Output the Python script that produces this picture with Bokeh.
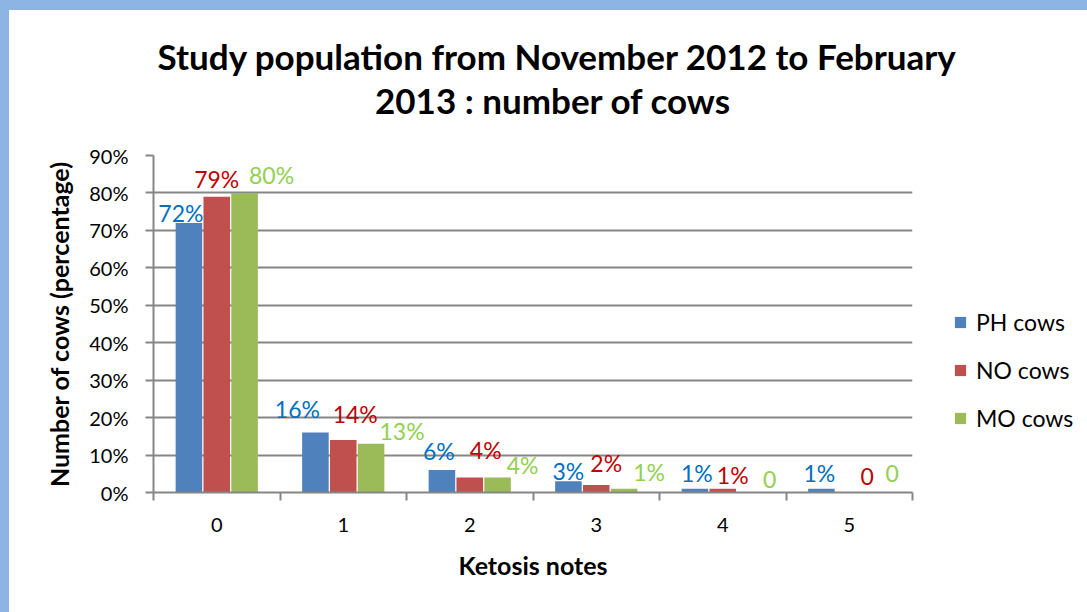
from bokeh.plotting import figure
from bokeh.models import (ColumnDataSource, Range1d, FixedTicker, Legend, LegendItem,
                          Label, Spacer)
from bokeh.layouts import column, row
from bokeh.embed import file_html
from bokeh.resources import INLINE

# ---- data ----
categories = [0, 1, 2, 3, 4, 5]
series_names = ["PH cows", "NO cows", "MO cows"]
ph_values = [72, 16, 6, 3, 1, 1]
no_values = [79, 14, 4, 2, 1, 0]
mo_values = [80, 13, 4, 1, 0, 0]
ph_labels = ["72%", "16%", "6%", "3%", "1%", "1%"]
no_labels = ["79%", "14%", "4%", "2%", "1%", "0"]
mo_labels = ["80%", "13%", "4%", "1%", "0", "0"]
y_ticks = [0, 10, 20, 30, 40, 50, 60, 70, 80, 90]
y_tick_labels = ["0%", "10%", "20%", "30%", "40%", "50%", "60%", "70%", "80%", "90%"]
x_tick_labels = ["0", "1", "2", "3", "4", "5"]
title_line1 = "Study population from November 2012 to February"
title_line2 = "2013 :  number of cows"

# ---- styles ----
FONT = "Lato"
bar_colors = ["#4F81BD", "#C0504D", "#9BBB59"]
label_colors = ["#0070C0", "#C00000", "#92D050"]
dodge = [-0.22, 0.0, 0.22]
bar_w = 0.21
# label pixel offsets (dx, dy above bar top) per series
label_dx = [[-8, -18, -3, 0, 2, -2], [0, 12, 16, 10, 10, 18], [27, 31, 25, 25, 19, 15]]
label_dy = [[10, 24, 19, 10, 16, 16], [18, 26, 28, 22, 14, 16], [18, 13, 13, 17, 13, 19]]
BLUE_BG = "#8DB4E2"
GRAY = "#868686"

W, H = 1087, 612
TITLE_H = 130
MAIN_W, LEG_W = 913, W - 9 - 913
BODY_H = H - 10 - TITLE_H


def blank(fig):
    fig.outline_line_color = None
    fig.background_fill_color = "white"
    fig.border_fill_color = "white"


# ---- title panel ----
t = figure(width=W - 9, height=TITLE_H, output_backend="svg", toolbar_location=None,
           x_range=Range1d(9, W), y_range=Range1d(0, TITLE_H),
           x_axis_type=None, y_axis_type=None,
           min_border_left=0, min_border_right=0, min_border_top=0, min_border_bottom=0)
blank(t)
t.xgrid.visible = False
t.ygrid.visible = False
t.add_layout(Label(x=557, y=85, text=title_line1, text_align="center",
                   text_baseline="middle", text_font=FONT, text_font_size="35px",
                   text_font_style="bold", text_color="black"))
t.add_layout(Label(x=557, y=41, text=title_line2, text_align="center",
                   text_baseline="middle", text_font=FONT, text_font_size="35px",
                   text_font_style="bold", text_color="black"))

# ---- main chart ----
p = figure(width=MAIN_W, height=BODY_H, output_backend="svg", toolbar_location=None,
           x_range=Range1d(-0.5, 5.5), y_range=Range1d(0, 90),
           min_border_left=144, min_border_right=10, min_border_top=15,
           min_border_bottom=120)
blank(p)

series_vals = [ph_values, no_values, mo_values]
series_labels = [ph_labels, no_labels, mo_labels]
for i in range(3):
    src = ColumnDataSource(dict(x=[c + dodge[i] for c in categories], top=series_vals[i]))
    p.vbar(x="x", top="top", width=bar_w, bottom=0, source=src,
           fill_color=bar_colors[i], line_color=None)
    for j, c in enumerate(categories):
        p.add_layout(Label(x=c + dodge[i], y=series_vals[i][j], text=series_labels[i][j],
                           x_offset=label_dx[i][j], y_offset=label_dy[i][j],
                           text_align="center", text_baseline="middle",
                           text_font=FONT, text_font_size="23px",
                           text_color=label_colors[i]))

p.xaxis.ticker = FixedTicker(ticks=categories, minor_ticks=[-0.5, 0.5, 1.5, 2.5, 3.5, 4.5, 5.5])
p.xaxis.major_label_overrides = {c: l for c, l in zip(categories, x_tick_labels)}
p.xaxis.major_tick_out = 0
p.xaxis.major_tick_in = 0
p.xaxis.minor_tick_out = 8
p.xaxis.minor_tick_in = 0
p.xaxis.minor_tick_line_color = GRAY
p.xaxis.minor_tick_line_width = 2
p.xaxis.axis_line_color = GRAY
p.xaxis.axis_line_width = 2
p.xaxis.major_label_text_font = FONT
p.xaxis.major_label_text_font_size = "20px"
p.xaxis.major_label_text_color = "black"
p.xaxis.major_label_standoff = 17
p.xaxis.axis_label = "Ketosis notes"
p.xaxis.axis_label_text_font = FONT
p.xaxis.axis_label_text_font_size = "25px"
p.xaxis.axis_label_text_font_style = "bold"
p.xaxis.axis_label_text_color = "black"
p.xaxis.axis_label_standoff = 15

p.yaxis.ticker = FixedTicker(ticks=y_ticks, minor_ticks=[])
p.yaxis.major_label_overrides = {v: l for v, l in zip(y_ticks, y_tick_labels)}
p.yaxis.major_tick_out = 8
p.yaxis.major_tick_in = 0
p.yaxis.major_tick_line_color = GRAY
p.yaxis.major_tick_line_width = 2
p.yaxis.axis_line_color = GRAY
p.yaxis.axis_line_width = 2
p.yaxis.major_label_text_font = FONT
p.yaxis.major_label_text_font_size = "20px"
p.yaxis.major_label_text_color = "black"
p.yaxis.major_label_standoff = 17
p.yaxis.axis_label = "Number of cows (percentage)"
p.yaxis.axis_label_text_font = FONT
p.yaxis.axis_label_text_font_size = "25px"
p.yaxis.axis_label_text_font_style = "bold"
p.yaxis.axis_label_text_color = "black"
p.yaxis.axis_label_standoff = 12

p.xgrid.grid_line_color = None
p.ygrid.ticker = FixedTicker(ticks=y_ticks)
p.ygrid.grid_line_color = GRAY
p.ygrid.grid_line_width = 2

# ---- legend panel (zero-height swatch renderers carry the series styles) ----
lg = figure(width=LEG_W, height=BODY_H, output_backend="svg", toolbar_location=None,
            x_range=Range1d(0, 1), y_range=Range1d(0, 1),
            x_axis_type=None, y_axis_type=None,
            min_border_left=0, min_border_right=0, min_border_top=0, min_border_bottom=0)
blank(lg)
lg.xgrid.visible = False
lg.ygrid.visible = False
leg_renderers = []
for i in range(3):
    src = ColumnDataSource(dict(x=[-10], top=[0]))
    leg_renderers.append(lg.vbar(x="x", top="top", width=bar_w, bottom=0, source=src,
                                 fill_color=bar_colors[i], line_color=None))
legend = Legend(items=[LegendItem(label=series_names[i], renderers=[leg_renderers[i]])
                       for i in range(3)],
                location=(31, 60), orientation="vertical",
                glyph_width=14, glyph_height=14, label_height=26, spacing=20,
                padding=0, margin=0, label_standoff=9,
                label_text_font=FONT, label_text_font_size="23px", label_text_color="black",
                border_line_color=None, background_fill_alpha=0)
lg.add_layout(legend, "center")

top_bar = Spacer(width=W, height=10, styles={"background-color": BLUE_BG})
left_bar = Spacer(width=9, height=H - 10, styles={"background-color": BLUE_BG})
body = column(t, row(p, lg, spacing=0), spacing=0)
layout = column(top_bar, row(left_bar, body, spacing=0), spacing=0)

open("out.html", "w").write(file_html(layout, INLINE))
